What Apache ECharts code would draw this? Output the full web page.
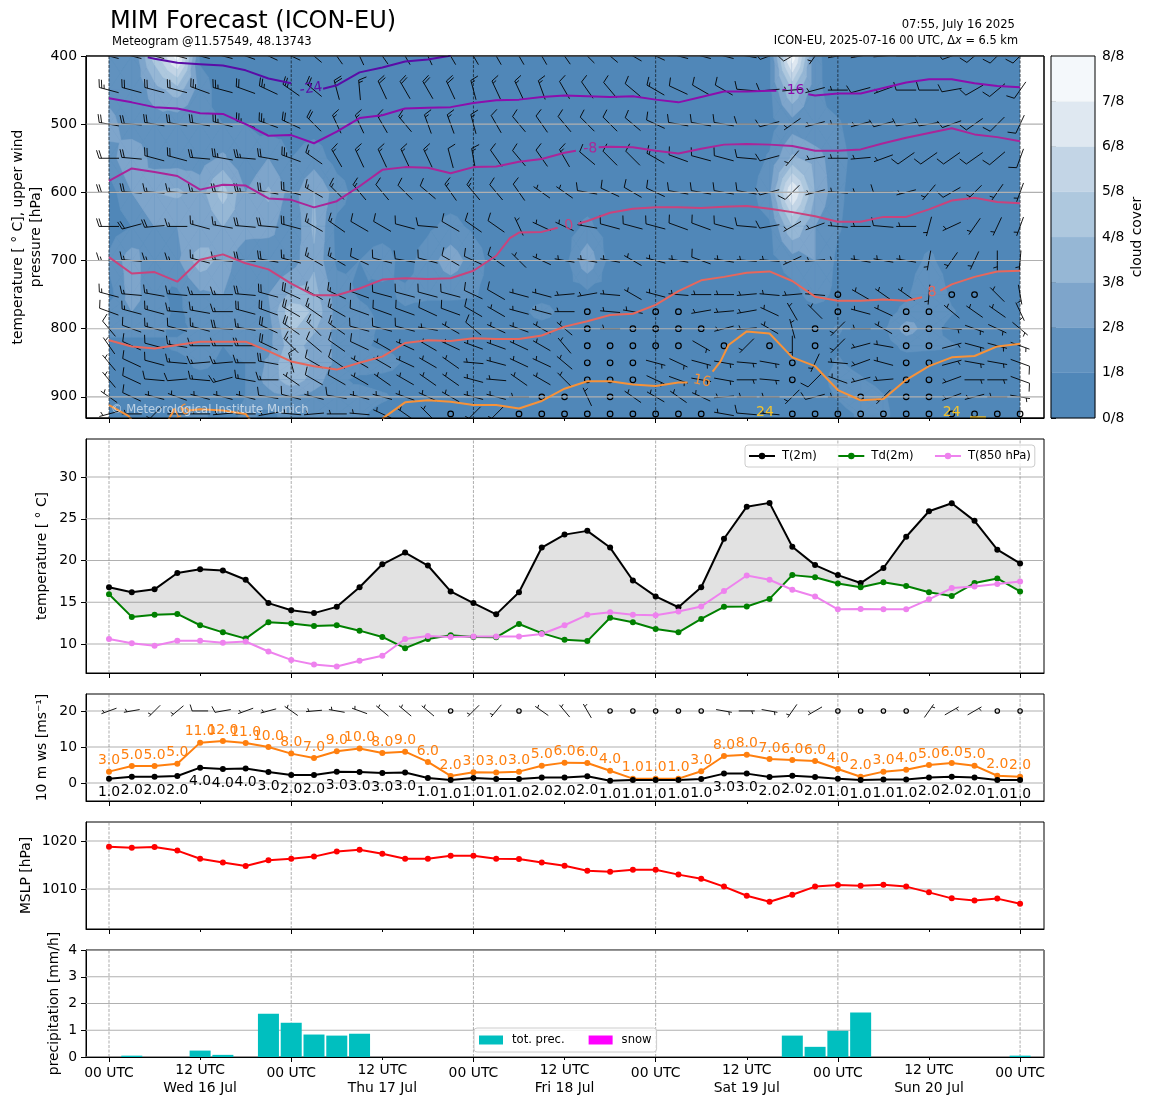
<!DOCTYPE html>
<html><head><meta charset="utf-8">
<style>html,body{margin:0;padding:0;background:#fff}#c{width:1155px;height:1105px}</style>
<script src="https://cdn.jsdelivr.net/npm/echarts@6/dist/echarts.min.js"></script>
</head><body><div id="c"></div>
<script>
const FONT='DejaVu Sans';
const levels=[400,450,500,550,600,650,700,750,775,800,825,850,875,900,925];
const majorHours=[0,24,48,72,96,120];
const minorHours=[12,36,60,84,108];
const dayLabels=['Wed 16 Jul','Thu 17 Jul','Fri 18 Jul','Sat 19 Jul','Sun 20 Jul'];
const cloudTicks=[0,1,2,3,4,5,6,7,8];
const bandColors=['#5087b8','#6192bf','#7ea5cb','#96b7d5','#aec8de','#c3d5e6','#dfe8f1','#f4f8fb'];

// cloud cover in eighths, one row per pressure level
const cloud400=[1.5,1,4.5,7.5,.8,.5,.5,.5,.5,.5,.5,.5,.5,.5,.5,.5,.5,.5,.5,.5,.5,.5,.5,.5,.5,.5,.5,.5,.5,.8,7.8,1.2,.5,.5,.5,.5,.5,.5,.5,.5,.5];
const cloud450=[1.5,1,2.5,3.5,1.5,.5,.5,.5,.5,.5,.5,.5,.5,.5,.5,.5,.5,.5,.5,.5,.5,.5,.5,.5,.5,.5,.5,.5,.5,.8,4,1.2,.6,.5,.5,.5,.5,.5,.5,.5,.5];
const cloud500=[2.5,1.2,1.5,1.2,1,1,1,.6,.6,.6,.5,.5,.5,.5,.5,.5,.5,.5,.5,.5,.5,.5,.5,.5,.5,.5,.5,.5,.5,.6,1.5,1.1,1.1,.5,.5,.5,.5,.5,.5,.5,.5];
const cloud550=[1.5,3,1.5,1.5,1.5,2.2,1,2,1,1.5,.6,.5,.5,.5,.5,.5,.5,.5,.5,.5,.5,.5,.5,.5,.5,.5,.5,.5,.5,1.1,3.2,2.5,1.3,.6,.5,.5,.5,.5,.5,.5,.5];
const cloud600=[.5,2,3,3.2,2.5,4.5,2,3.2,1.5,3,1.5,.5,.5,.5,.5,.5,.5,.5,.5,.5,.5,.5,.5,.5,.5,.5,.5,.5,.5,1.8,7.2,3,1.2,.5,.5,.5,.5,.5,.5,.5,.5];
const cloud650=[.5,1,2,2,2,3,2.5,2.5,1,3.2,.7,.5,.5,.5,.8,1.3,.8,.5,.5,.5,.5,1.2,.5,.5,.5,.5,.5,.5,.6,.8,4,2,1.1,.5,.5,.5,.5,.5,.5,.5,.5];
const cloud700=[1.2,2.6,1,1.8,3.6,2.6,1.2,1,1.5,2.8,.8,1,1.5,.6,1.5,2.6,1.5,.5,.5,.5,.6,2.8,.6,.5,.5,.5,.5,.5,.5,.6,1.5,2,.8,.5,.5,.5,1.2,.5,.5,.5,.5];
const cloud750=[.6,2.5,1.2,.8,1.8,2,1,2,3.2,3.4,1.5,.9,.7,1.2,1.2,1.2,1.1,.6,.5,.5,.5,.7,.5,.5,.5,.5,.5,.5,.5,.5,.6,1.5,.7,.5,.5,.8,2,.8,.5,.5,.5];
const cloud775=[1.5,2,1.5,.8,1.5,1.5,1,1.8,4.8,3.8,1.6,1.2,.8,.9,.6,.6,.6,.6,.6,1.5,.6,.5,.5,.5,.5,.5,.5,.5,.5,.5,.5,.6,.6,.5,.5,1.3,1.8,1.1,.5,.5,.5];
const cloud800=[1.5,1.2,1.2,.8,1.2,1,1.2,1.5,4.2,3.2,1.6,1.5,.8,.6,.5,.5,.5,.5,.5,.5,.5,.5,.5,.5,.5,.5,.5,.5,.5,.5,.5,.6,1.1,.6,.8,2.5,1.5,.6,.5,.5,.5];
const cloud825=[.5,.8,.8,1.2,1.5,1,1.5,1.6,3.6,2.5,1.8,1.2,.8,.5,.5,.5,.5,.5,.5,.5,.5,.5,.5,.5,.5,.5,.5,.5,.5,.5,.5,.5,.9,.5,.5,1.3,1.2,1.1,.6,.5,.5];
const cloud850=[.5,.5,.6,.6,1.3,.8,1,2.2,4,2.8,1.8,1.5,1.8,.8,.5,.5,.5,.5,.5,.5,.5,.5,.5,.5,.5,.5,.5,.5,.5,.5,.5,.5,1.1,.7,.5,.5,.5,.5,.5,.5,.5];
const cloud875=[.6,.6,.6,.6,.6,.6,1,2.4,3.6,2.6,1.2,.8,.5,.5,.5,.5,.5,.5,.5,.5,.5,.5,.5,.5,.5,.5,.5,.5,.5,.5,.5,.5,1.4,1.1,.5,.5,.5,.5,.5,.5,.5];
const cloud900=[.7,.7,.7,.7,.7,.7,1,1.6,2,1.6,1.2,1.5,1.2,.6,.5,.5,.5,.5,.5,.5,.5,.5,.5,.5,.5,.5,.5,.5,.5,.5,.5,.5,1.1,2,1.1,.5,.5,.5,.5,.5,.5];
const cloud925=[.6,.6,.6,1.2,1.2,.6,1.2,.8,1.3,1.1,1.4,1.2,.6,.5,.5,.5,.5,.5,.5,.5,.5,.5,.5,.5,.5,.5,.5,.5,.5,.5,.5,.5,.5,1.2,1.2,.5,.5,.5,.5,.5,.5];
const cloudRows=[cloud400,cloud450,cloud500,cloud550,cloud600,cloud650,cloud700,cloud750,cloud775,cloud800,cloud825,cloud850,cloud875,cloud900,cloud925];

// upper winds: direction (deg, 0 with speed 0 = calm) and speed (kt)
const dir400=[285,285,285,285,285,285,290,295,295,310,325,335,325,330,335,330,330,330,330,330,325,315,310,300,295,285,285,285,280,250,240,215,260,260,265,270,270,250,230,225,225];
const spd400=[25,25,25,25,25,25,25,25,25,20,15,15,15,15,15,15,15,15,10,10,10,10,10,10,10,10,10,10,10,10,10,5,5,5,5,5,5,10,10,10,10];
const dir450=[285,285,285,285,290,285,290,295,305,310,345,355,335,330,330,335,345,335,335,340,330,325,320,310,300,295,300,300,275,265,265,255,270,255,250,270,270,260,240,230,215];
const spd450=[25,20,20,20,25,25,20,25,25,25,20,15,20,20,20,20,15,15,15,15,10,10,10,10,15,10,10,10,10,10,5,5,5,10,5,10,10,10,10,10,10];
const dir500=[280,275,280,280,280,285,290,290,295,315,335,335,330,320,340,340,345,330,320,325,320,315,315,310,295,280,280,280,270,255,235,255,270,255,255,260,260,250,235,225,205];
const spd500=[20,20,20,20,20,25,25,25,20,20,15,15,15,15,15,15,15,10,10,10,10,10,10,10,10,10,10,10,10,10,5,5,5,5,10,10,10,10,10,10,10];
const dir550=[270,275,285,285,275,280,275,280,290,305,330,335,335,335,335,345,350,325,320,325,330,310,315,315,300,290,285,285,275,255,220,260,270,265,250,235,235,235,235,230,200];
const spd550=[20,20,20,20,20,25,25,20,25,15,15,15,15,15,15,10,15,10,10,10,15,10,10,10,15,10,10,10,10,10,5,5,5,5,5,10,10,10,10,10,10];
const dir600=[270,275,275,275,275,275,275,280,285,300,315,320,320,315,310,325,320,320,325,305,305,280,295,300,295,280,280,280,280,255,225,255,275,270,270,255,220,240,225,215,200];
const spd600=[20,20,15,15,15,20,25,20,20,15,15,15,10,10,10,15,15,10,10,5,5,10,10,10,10,10,10,10,10,10,10,5,5,5,10,5,5,10,5,5,5];
const dir650=[270,255,265,270,285,280,275,275,285,300,305,300,300,285,275,300,305,305,335,295,295,280,285,285,285,290,290,285,275,260,240,250,275,270,275,270,195,245,215,205,200];
const spd650=[20,20,20,15,15,15,20,20,20,15,15,10,10,10,10,10,10,10,5,5,5,5,10,10,10,10,10,10,10,10,5,5,5,5,10,5,5,5,5,5,5];
const dir700=[270,275,270,270,285,275,275,280,285,300,300,295,285,280,285,300,295,305,315,295,280,280,280,300,285,280,290,280,275,275,245,265,270,280,280,280,190,215,205,180,185];
const spd700=[15,15,15,15,15,15,20,20,15,15,15,10,10,10,10,10,10,10,5,5,5,5,5,5,5,5,10,5,5,5,5,5,5,5,5,5,5,5,5,5,5];
const dir750=[285,275,280,275,270,270,275,285,295,300,295,290,285,285,285,285,295,300,285,285,265,260,275,300,285,275,270,270,265,275,265,275,0,300,305,305,185,0,0,315,170];
const spd750=[15,15,15,15,15,15,20,20,20,15,15,10,10,10,10,10,10,10,5,5,5,5,5,5,5,5,5,5,5,5,5,5,0,5,5,5,5,0,0,5,5];
const dir775=[290,285,285,275,280,270,285,290,300,305,300,290,290,290,295,290,300,300,285,285,270,0,275,280,0,0,260,265,260,295,330,315,0,285,295,0,0,310,305,305,155];
const spd775=[10,15,15,15,15,15,20,20,20,15,15,10,10,10,10,10,10,5,5,5,5,0,5,5,0,0,5,5,5,5,5,5,0,5,5,0,0,5,5,5,5];
const dir800=[320,290,285,285,285,275,280,295,305,315,305,285,285,285,280,300,310,295,290,300,310,0,270,0,0,0,0,255,265,300,345,0,225,270,300,0,0,95,110,115,130];
const spd800=[10,10,15,10,15,20,15,20,20,15,15,10,10,10,5,5,10,5,5,5,5,0,5,0,0,0,0,5,5,5,5,0,5,5,5,0,0,5,5,5,5];
const dir825=[325,295,285,280,270,270,270,295,315,310,305,295,300,295,300,295,290,290,295,300,320,0,0,0,0,0,120,0,225,0,180,0,225,255,280,0,0,75,105,105,110];
const spd825=[5,10,10,15,15,15,20,20,15,10,10,10,5,5,5,5,5,5,5,5,5,0,0,0,0,0,5,0,5,0,5,0,5,5,5,0,0,5,5,5,5];
const dir850=[320,295,285,275,265,265,270,280,345,300,305,300,300,295,300,305,275,285,295,295,310,0,0,0,105,115,105,100,95,100,0,205,275,250,285,0,0,75,100,100,110];
const spd850=[5,10,10,15,15,15,15,20,10,10,10,5,5,5,5,5,5,5,5,5,5,0,0,0,5,5,5,5,5,5,0,5,5,5,5,0,0,5,5,5,10];
const dir875=[320,295,275,265,275,255,280,270,305,300,300,300,305,300,305,305,285,275,305,300,315,0,0,0,115,110,100,100,90,95,0,225,290,255,265,0,0,250,90,90,110];
const spd875=[5,10,10,10,15,15,15,15,5,10,10,5,5,5,5,5,5,5,5,5,5,0,0,0,5,5,5,5,5,5,0,10,5,5,5,0,0,5,5,5,10];
const dir900=[305,295,285,290,285,285,285,280,285,285,280,285,285,290,295,300,285,285,270,0,0,335,0,305,300,305,295,265,270,270,225,255,270,0,225,0,0,250,255,270,100];
const spd900=[5,10,5,5,5,5,5,10,10,5,10,5,5,5,5,5,5,5,5,0,0,5,0,5,5,5,5,5,5,5,5,10,5,0,5,0,0,5,5,5,5];
const dir925=[255,270,225,270,270,265,270,260,275,265,270,275,295,305,315,0,225,225,0,0,0,0,0,0,0,0,0,280,275,275,0,0,0,0,0,0,0,0,0,0,0];
const spd925=[5,5,5,5,5,5,5,5,5,5,5,5,5,5,5,0,5,5,0,0,0,0,0,0,0,0,0,5,10,5,0,0,0,0,0,0,0,0,0,0,0];
const dirRows=[dir400,dir450,dir500,dir550,dir600,dir650,dir700,dir750,dir775,dir800,dir825,dir850,dir875,dir900,dir925];
const spdRows=[spd400,spd450,spd500,spd550,spd600,spd650,spd700,spd750,spd775,spd800,spd825,spd850,spd875,spd900,spd925];

// temperature contours: [time step, pressure]; null breaks the line at a label
const contourM24=[[1.7,402],[2,404],[3,410],[4,412],[5,414],[6,421],[7,433],[8,440],null,[9.4,448],[10,443],[11,424],[12,417],[13,408],[14,405],[14.9,400],[15,399]];
const contourM16=[[0,462],[1,468],[2,475],[3,477],[4,484],[5,485],[6,500],[7,517],[8,516],[9,528],[10,511],[11,491],[12,487],[13,477],[14,476],[15,475],[16,469],[17,465],[18,464],[19,460],[20,458],[21,459],[22,460],[23,459],[24,464],[25,468],[26,460],[27,452],[28,452],[29,451],[29.3,451],null,[30.7,456],[31,458],[32,455],[33,455],[34,447],[35,439],[36,434],[37,434],[38,440],[39,444],[40,446]];
const contourM8=[[0,583],[1,565],[2,570],[3,576],[4,596],[5,589],[6,590],[7,609],[8,611],[9,622],[10,613],[11,591],[12,567],[13,563],[14,564],[15,572],[16,563],[17,562],[18,555],[19,551],[20,542],[20.5,539],null,[21.5,534],[22,533],[23,534],[24,539],[25,543],[26,536],[27,530],[28,529],[29,530],[30,532],[31,539],[32,539],[33,537],[34,528],[35,520],[36,513],[37,506],[38,515],[39,519],[40,525]];
const contour0=[[0,695],[1,719],[2,717],[3,731],[4,699],[5,691],[6,704],[7,713],[8,734],[9,751],[10,751],[11,741],[12,728],[13,726],[14,727],[15,726],[16,715],[17,693],[17.6,667],[18,659],[19,658],[19.7,652],null,[20.6,646],[21,642],[22,630],[23,624],[24,622],[25,622],[26,623],[27,621],[28,620],[29,624],[30,629],[31,635],[32,643],[33,643],[34,636],[35,636],[36,625],[37,612],[38,608],[39,614],[40,616]];
const contour8=[[0,817],[1,826],[2,829],[3,824],[4,819],[5,819],[6,819],[7,833],[8,848],[9,855],[10,860],[11,850],[12,841],[13,821],[14,817],[15,818],[16,814],[17,815],[18,815],[19,810],[20,797],[21,789],[22,780],[23,778],[24,765],[25,745],[26,729],[27,724],[28,718],[29,716],[30,730],[31,753],[32,759],[33,759],[34,757],[35,759],[35.7,754],null,[36.5,744],[37,735],[38,724],[39,716],[40,715]];
const contour16=[[0,912],[.85,928],[1,934],null,[2.6,934],[2.7,928],[2.85,920],null,[3.5,920],[4,918],[5,920],[6,925],[6.2,934],null,[12,932],[13,908],[14,905],[15,907],[16,912],[17,912],[18,917],[19,906],[20,888],[21,877],[22,877],[23,882],[24,884],[25,879],[25.4,879],null,[26.5,863],[26.85,848],[27.2,824],[28,804],[29,807],[30,842],[31,855],[32,890],[33,905],[34,903],[35,875],[36,855],[37,842],[38,840],[39,826],[40,822]];
const contour24=[[37.8,930],[38.5,930]];
const contourColors=['#5a0ca6','#8c0eac','#ab2598','#c9437c','#e7675c','#f79239','#f1c22e'];
const contourSets=[contourM24,contourM16,contourM8,contour0,contour8,contour16,contour24];
const contourLabelText=['-24','-16','-8','0','8','16','16','24','24'];
const contourLabelHour=[26.6,90.1,63.4,60.6,108.4,78.1,9.5,86.4,111];
const contourLabelPres=[448,450,536,649,747,877,923,923,923];
const contourLabelRot=[8,0,2,10,5,-12,25,0,0];
const contourLabelSet=[0,1,2,3,4,5,5,6,6];

// surface
const t2m=[16.8,16.2,16.55,18.5,18.95,18.8,17.7,14.9,14.05,13.7,14.45,16.8,19.55,20.95,19.4,16.3,14.9,13.55,16.2,21.55,23.1,23.55,21.55,17.6,15.7,14.4,16.8,22.6,26.45,26.9,21.65,19.45,18.25,17.3,19.1,22.85,25.9,26.85,24.75,21.3,19.65];
const td2m=[15.95,13.25,13.5,13.6,12.25,11.4,10.65,12.6,12.45,12.15,12.25,11.6,10.85,9.5,10.6,11.05,10.85,10.8,12.4,11.3,10.5,10.35,13.15,12.6,11.8,11.4,13,14.45,14.5,15.4,18.25,18,17.25,16.8,17.4,16.95,16.2,15.75,17.3,17.85,16.3];
const t850=[10.6,10.1,9.8,10.4,10.4,10.15,10.3,9.1,8.1,7.55,7.3,8,8.6,10.6,10.95,10.85,10.9,10.9,10.9,11.2,12.25,13.5,13.8,13.5,13.45,13.9,14.5,16.35,18.2,17.7,16.5,15.7,14.15,14.2,14.15,14.15,15.35,16.7,16.9,17.2,17.5];
const gust=[3.15,4.7,4.7,5.35,11.2,11.65,11.1,10,8.15,6.95,8.8,9.55,8.35,8.7,5.85,1.95,2.95,2.9,3.15,4.8,5.65,5.55,3.4,1.2,1.2,1.2,3.25,7.5,7.85,6.65,6.4,6.1,3.9,1.75,3.15,3.7,5,5.55,4.8,2,1.75];
const ws10=[1.2,1.75,1.75,1.95,4.25,3.9,4,3.05,2.2,2.2,3.15,3.05,2.8,2.9,1.4,.85,1.4,1.1,1.1,1.5,1.5,1.85,.65,.85,.85,.85,1.1,2.6,2.6,1.65,2,1.65,1.2,.85,.95,1,1.5,1.75,1.5,.85,.85];
const gustLabels=[3,5,5,5,11,12,11,10,8,7,9,10,8,9,6,2,3,3,3,5,6,6,4,1,1,1,3,8,8,7,6,6,4,2,3,4,5,6,5,2,2];
const wsLabels=[1,2,2,2,4,4,4,3,2,2,3,3,3,3,1,1,1,1,1,2,2,2,1,1,1,1,1,3,3,2,2,2,1,1,1,1,2,2,2,1,1];
const dir10=[250,260,225,230,270,260,250,255,305,265,280,290,310,310,310,0,225,220,0,305,320,330,0,0,0,0,0,100,90,100,215,240,0,0,0,0,35,60,60,0,0];
const spd10=[5,5,5,5,10,10,5,5,5,5,5,5,5,5,5,0,5,5,0,5,5,5,0,0,0,0,0,5,5,5,5,5,0,0,0,0,5,5,5,0,0];
const mslp=[1018.8,1018.6,1018.75,1018,1016.3,1015.5,1014.8,1016,1016.3,1016.75,1017.8,1018.2,1017.35,1016.3,1016.3,1016.95,1016.95,1016.3,1016.25,1015.5,1014.85,1013.8,1013.6,1014,1014,1013,1012.15,1010.5,1008.6,1007.35,1008.8,1010.5,1010.85,1010.7,1010.9,1010.5,1009.3,1008.05,1007.6,1008,1006.95];
const precipStep=[1,4,5,7,8,9,10,11,30,31,32,33,40];
const precipVal=[.05,.24,.08,1.62,1.28,.84,.8,.87,.8,.38,.98,1.66,.05];

// ---------- layout ----------
const X0=-3.03, X1=123.15;
const panels=[
 {top:56,h:362,ymin:400,ymax:931,inverse:true,ticks:[400,500,600,700,800,900],name:'temperature [ ° C], upper wind\npressure [hPa]',gap:41},
 {top:439,h:234,ymin:6.53,ymax:34.55,ticks:[10,15,20,25,30],name:'temperature [ ° C]',gap:35},
 {top:694,h:107,ymin:-5,ymax:24.7,ticks:[0,10,20],name:'10 m ws [ms⁻¹]',gap:35},
 {top:822,h:107,ymin:1001.67,ymax:1023.96,ticks:[1010,1020],name:'MSLP [hPa]',gap:51},
 {top:950,h:107,ymin:0,ymax:4,ticks:[0,1,2,3,4],name:'precipitation [mm/h]',gap:23}
];
const grids=panels.map(p=>({left:86,top:p.top,width:958,height:p.h,show:true,borderColor:'#000',borderWidth:1,backgroundColor:'#fff',containLabel:false,outerBoundsMode:'none'}));
grids.push({left:1051,top:56,width:44,height:362,show:false,outerBoundsMode:'none'});

const xAxes=[],yAxes=[];
panels.forEach((p,g)=>{
  const last=g===panels.length-1;
  xAxes.push({type:'value',gridIndex:g,position:'bottom',min:X0,max:X1,splitLine:{show:false},
    axisLine:{show:true,onZero:false,lineStyle:{color:'#000',width:1}},
    axisTick:{show:true,customValues:majorHours,length:5,lineStyle:{color:'#000',width:1}},
    axisLabel:{show:last,customValues:majorHours,margin:9,fontFamily:FONT,fontSize:13.9,color:'#000',formatter:()=>'00 UTC',hideOverlap:false}});
  xAxes.push({type:'value',gridIndex:g,position:'bottom',min:X0,max:X1,splitLine:{show:false},
    axisLine:{show:false,onZero:false},
    axisTick:{show:true,customValues:minorHours,length:3,lineStyle:{color:'#000',width:1}},
    axisLabel:{show:last,customValues:minorHours,margin:5,fontFamily:FONT,fontSize:13.9,color:'#000',lineHeight:17.5,hideOverlap:false,
      formatter:v=>'12 UTC\n'+dayLabels[minorHours.indexOf(v)]}});
  yAxes.push({type:'value',gridIndex:g,min:p.ymin,max:p.ymax,inverse:!!p.inverse,splitLine:{show:false},
    name:p.name,nameLocation:'middle',nameRotate:90,nameGap:p.gap,nameMoveOverlap:false,
    nameTextStyle:{fontFamily:FONT,fontSize:13.9,color:'#000',lineHeight:18},
    axisLine:{show:true,onZero:false,lineStyle:{color:'#000',width:1}},
    axisTick:{show:true,customValues:p.ticks,length:5,lineStyle:{color:'#000',width:1}},
    axisLabel:{customValues:p.ticks,margin:9,padding:[2,0,0,0],fontFamily:FONT,fontSize:13.9,color:'#000',hideOverlap:false,formatter:v=>String(v)}});
});
// colorbar axes
xAxes.push({type:'value',gridIndex:5,min:0,max:1,show:false});
yAxes.push({type:'value',gridIndex:5,min:0,max:8,position:'right',splitLine:{show:false},
  name:'cloud cover',nameLocation:'middle',nameRotate:90,nameGap:35,nameMoveOverlap:false,
  nameTextStyle:{fontFamily:FONT,fontSize:13.9,color:'#000'},
  axisLine:{show:true,lineStyle:{color:'#000',width:1}},
  axisTick:{show:true,customValues:cloudTicks,length:5,lineStyle:{color:'#000',width:1}},
  axisLabel:{customValues:cloudTicks,margin:7,padding:[2,0,0,0],fontFamily:FONT,fontSize:13.9,color:'#000',hideOverlap:false,formatter:v=>v+'/8'}});

// ---------- helpers ----------
function barbElems(cx,cy,dir,spd,L,r){
  if(!spd) return [{type:'circle',shape:{cx,cy,r},style:{fill:'none',stroke:'#000',lineWidth:1.2}}];
  const a=dir*Math.PI/180, ux=Math.sin(a), uy=-Math.cos(a), nx=-uy, ny=ux;
  const ex=cx+ux*L/2, ey=cy+uy*L/2;
  const line=(x1,y1,x2,y2)=>({type:'line',shape:{x1,y1,x2,y2},style:{stroke:'#000',lineWidth:.9,fill:null}});
  const out=[line(cx-ux*L/2,cy-uy*L/2,ex,ey)];
  const sp=.125*L; let off=0, n=Math.floor(spd/10), half=spd%10>=5;
  for(let k=0;k<n;k++){
    const px=ex-ux*off,py=ey-uy*off;
    out.push(line(px,py,px+nx*.4*L+ux*.125*L,py+ny*.4*L+uy*.125*L)); off+=sp;
  }
  if(half){
    if(off===0) off=1.5*sp;
    const px=ex-ux*off,py=ey-uy*off;
    out.push(line(px,py,px+nx*.2*L+ux*.0625*L,py+ny*.2*L+uy*.0625*L));
  }
  return out;
}
function clipTri(pts,vals,t){
  const res=[];
  for(let k=0;k<pts.length;k++){
    const a=pts[k],b=pts[(k+1)%pts.length],va=vals[k],vb=vals[(k+1)%pts.length];
    if(va>=t) res.push(a);
    if((va>=t)!==(vb>=t)){const f=(t-va)/(vb-va);res.push([a[0]+(b[0]-a[0])*f,a[1]+(b[1]-a[1])*f]);}
  }
  return res;
}
function customOn(g,extra){return Object.assign({type:'custom',coordinateSystem:'cartesian2d',xAxisIndex:g*2,yAxisIndex:g,silent:true,progressive:0,animation:false,clip:true},extra);}
function gridSeries(g,hColor,vColor,z){
  const p=panels[g], dataH=p.ticks.map(v=>[0,v]), dataV=majorHours.map(v=>[1,v]);
  return customOn(g,{z,data:dataH.concat(dataV),encode:{x:[],y:[]},renderItem(params,api){
    const kind=api.value(0),v=api.value(1);
    const a=kind?api.coord([v,p.ymin]):api.coord([X0,v]), b=kind?api.coord([v,p.ymax]):api.coord([X1,v]);
    return {type:'line',shape:{x1:a[0],y1:a[1],x2:b[0],y2:b[1]},
      style:kind?{stroke:vColor,lineWidth:.6,lineDash:[3,1.5],fill:null}:{stroke:hColor,lineWidth:1.1,fill:null}};
  }});
}
const idx=t2m.map((_,i)=>i);
const lineSeries=(name,g,vals,color,extra)=>Object.assign({name,type:'line',xAxisIndex:g*2,yAxisIndex:g,z:5,
  data:vals.map((v,i)=>[i*3,v]),symbol:'circle',symbolSize:6,showSymbol:true,animation:false,silent:true,
  lineStyle:{color,width:2},itemStyle:{color}},extra||{});

// ---------- series ----------
const series=[];
// base band under the whole cloud field
series.push(customOn(0,{z:1,data:[[0,0]],encode:{x:[],y:[]},renderItem(params,api){
  const a=api.coord([0,400]),b=api.coord([120,931]);
  return {type:'rect',shape:{x:a[0],y:a[1],width:b[0]-a[0],height:b[1]-a[1]},style:{fill:bandColors[0]}};
}}));
// cloud cover filled bands, built per grid cell
const cellData=[];
for(let j=0;j<levels.length;j++) for(let i=0;i<40;i++) cellData.push([i,j]);
series.push(customOn(0,{z:1,data:cellData,encode:{x:[],y:[]},renderItem(params,api){
  const i=api.value(0),j=api.value(1);
  const r0=cloudRows[j],r1=cloudRows[Math.min(j+1,levels.length-1)];
  const h0=i*3,h1=(i+1)*3,p0=levels[j],p1=j+1<levels.length?levels[j+1]:931;
  const A=api.coord([h0,p0]),B=api.coord([h1,p0]),C=api.coord([h1,p1]),D=api.coord([h0,p1]);
  const va=r0[i],vb=r0[i+1],vc=r1[i+1],vd=r1[i],vm=(va+vb+vc+vd)/4;
  const M=[(A[0]+C[0])/2,(A[1]+C[1])/2];
  const tris=[[[A,B,M],[va,vb,vm]],[[B,C,M],[vb,vc,vm]],[[C,D,M],[vc,vd,vm]],[[D,A,M],[vd,va,vm]]];
  const children=[];
  const mx=Math.max(va,vb,vc,vd);
  for(let k=1;k<8&&k<=mx;k++){
    tris.forEach(([pts,vals])=>{
      const c=clipTri(pts,vals,k);
      if(c.length>=3) children.push({type:'polygon',shape:{points:c},style:{fill:bandColors[k],stroke:bandColors[k],lineWidth:.5}});
    });
  }
  return {type:'group',children};
}}));
// upper wind barbs
const barbData=[];
levels.forEach((p,j)=>{for(let i=0;i<41;i++) barbData.push([i*3,p,dirRows[j][i],spdRows[j][i]]);});
series.push(customOn(0,{z:2,data:barbData,encode:{x:0,y:1},renderItem(params,api){
  const c=api.coord([api.value(0),api.value(1)]);
  return {type:'group',children:barbElems(c[0],c[1],api.value(2),api.value(3),20,2.8)};
}}));
// top panel grid above cloud and barbs
series.push(gridSeries(0,'#b0b0b0','#000',3));
// contours
contourSets.forEach((set,s)=>{
  series.push({type:'line',xAxisIndex:0,yAxisIndex:0,z:4,showSymbol:false,symbol:'none',animation:false,silent:true,clip:true,connectNulls:false,
    lineStyle:{color:contourColors[s],width:2},
    data:set.map(q=>q?[q[0]*3,q[1]]:['-','-'])});
});
series.push(customOn(0,{z:4,data:contourLabelText.map((t,k)=>[contourLabelHour[k],contourLabelPres[k],k]),encode:{x:0,y:1},renderItem(params,api){
  const c=api.coord([api.value(0),api.value(1)]),k=api.value(2);
  return {type:'text',x:c[0],y:c[1],rotation:contourLabelRot[k]*Math.PI/180,
    style:{text:contourLabelText[k],fill:contourColors[contourLabelSet[k]],font:'14px "DejaVu Sans"',align:'center',verticalAlign:'middle'}};
}}));
// panel 1 frame on top of the fill
series.push(customOn(0,{z:6,clip:false,data:[[0,0]],encode:{x:[],y:[]},renderItem(params,api){
  const a=api.coord([X0,400]),b=api.coord([X1,931]);
  return {type:'rect',shape:{x:a[0],y:a[1],width:b[0]-a[0],height:b[1]-a[1]},style:{fill:'none',stroke:'#000',lineWidth:1}};
}}));
// colorbar
series.push({type:'custom',coordinateSystem:'cartesian2d',xAxisIndex:10,yAxisIndex:5,silent:true,animation:false,z:2,
  data:bandColors.map((c,k)=>[k]),encode:{x:[],y:[]},renderItem(params,api){
    const k=api.value(0),a=api.coord([0,k+1]),b=api.coord([1,k]);
    return {type:'rect',shape:{x:a[0],y:a[1],width:b[0]-a[0],height:b[1]-a[1]},style:{fill:bandColors[k],stroke:bandColors[k],lineWidth:.4}};
  }});
series.push({type:'custom',coordinateSystem:'cartesian2d',xAxisIndex:10,yAxisIndex:5,silent:true,animation:false,z:3,
  data:[[0]],encode:{x:[],y:[]},renderItem(params,api){
    const a=api.coord([0,8]),b=api.coord([1,0]);
    return {type:'rect',shape:{x:a[0],y:a[1],width:b[0]-a[0],height:b[1]-a[1]},style:{fill:'none',stroke:'#000',lineWidth:1}};
  }});
// grids of lower panels
[1,2,3,4].forEach(g=>series.push(gridSeries(g,'#b0b0b0','#777',1)));
// T / Td fill
series.push(customOn(1,{z:2,data:[[0]],encode:{x:[],y:[]},renderItem(params,api){
  const pts=[];
  idx.forEach(i=>pts.push(api.coord([i*3,t2m[i]])));
  idx.slice().reverse().forEach(i=>pts.push(api.coord([i*3,td2m[i]])));
  return {type:'polygon',shape:{points:pts},style:{fill:'rgba(128,128,128,0.23)'}};
}}));
series.push(lineSeries('T(2m)',1,t2m,'#000'));
series.push(lineSeries('Td(2m)',1,td2m,'#008000'));
series.push(lineSeries('T(850 hPa)',1,t850,'#ee82ee'));
// 10 m wind
series.push(lineSeries('gust',2,gust,'#ff7f0e',{label:{show:true,position:'top',distance:1,color:'#ff7f0e',fontFamily:FONT,fontSize:13.9,
  formatter:q=>gustLabels[q.dataIndex].toFixed(1)}}));
series.push(lineSeries('ws',2,ws10,'#000',{label:{show:true,position:'bottom',distance:4,color:'#000',fontFamily:FONT,fontSize:13.9,
  formatter:q=>wsLabels[q.dataIndex].toFixed(1)}}));
series.push(customOn(2,{z:4,data:idx.map(i=>[i*3,20,dir10[i],spd10[i]]),encode:{x:0,y:1},renderItem(params,api){
  const c=api.coord([api.value(0),api.value(1)]);
  return {type:'group',children:barbElems(c[0],c[1],api.value(2),api.value(3),16,2.2)};
}}));
// MSLP
series.push(lineSeries('MSLP',3,mslp,'#f00'));
// precipitation
series.push({name:'tot. prec.',type:'bar',xAxisIndex:8,yAxisIndex:4,z:3,barWidth:21,animation:false,silent:true,itemStyle:{color:'#00bfbf'},
  data:precipStep.map((s,k)=>[s*3,precipVal[k]])});
series.push({name:'snow',type:'bar',xAxisIndex:8,yAxisIndex:4,z:3,barWidth:21,barGap:'-100%',animation:false,silent:true,itemStyle:{color:'#ff00ff'},data:[]});

const legendBase={orient:'horizontal',backgroundColor:'rgba(255,255,255,0.8)',borderColor:'#ccc',borderWidth:1,borderRadius:3,
  selectedMode:false,z:20};
const option={
  animation:false,backgroundColor:'#fff',
  textStyle:{fontFamily:FONT},
  title:[
   {text:'MIM Forecast (ICON-EU)',left:110,top:10,padding:0,textStyle:{fontFamily:FONT,fontSize:24,fontWeight:'normal',color:'#000'}},
   {text:'Meteogram @11.57549, 48.13743',left:112,top:36,padding:0,textStyle:{fontFamily:FONT,fontSize:11.6,fontWeight:'normal',color:'#000'}},
   {text:'07:55, July 16 2025',right:140,top:19,padding:0,textStyle:{fontFamily:FONT,fontSize:11.6,fontWeight:'normal',color:'#000'}},
   {text:'ICON-EU, 2025-07-16 00 UTC, Δ{i|x} = 6.5 km',right:137,top:36,padding:0,textStyle:{fontFamily:FONT,fontSize:11.4,fontWeight:'normal',color:'#000',rich:{i:{fontFamily:FONT,fontSize:11.4,fontStyle:'italic',color:'#000'}}}},
   {text:'© Meteorological Institute Munich',left:111,top:404,padding:0,z:10,textStyle:{fontFamily:FONT,fontSize:11.6,fontWeight:'normal',color:'rgba(255,255,255,0.6)'}}
  ],
  grid:grids,xAxis:xAxes,yAxis:yAxes,
  legend:[
   Object.assign({},legendBase,{data:['T(2m)','Td(2m)','T(850 hPa)'],left:745,top:445,padding:[5,4,5,3],itemWidth:26,itemHeight:8,itemGap:20.5,
     textStyle:{fontFamily:FONT,fontSize:11.6,color:'#000',padding:[0,0,0,2]}}),
   Object.assign({},legendBase,{data:[{name:'tot. prec.',icon:'rect'},{name:'snow',icon:'rect'}],left:474,top:1028,padding:[6,5,6,5],itemWidth:24,itemHeight:9,itemGap:24,
     textStyle:{fontFamily:FONT,fontSize:11.6,color:'#000',padding:[0,0,0,4]}})
  ],
  series
};
const chart=echarts.init(document.getElementById('c'),null,{renderer:'canvas',width:1155,height:1105});
chart.setOption(option);
</script></body></html>
